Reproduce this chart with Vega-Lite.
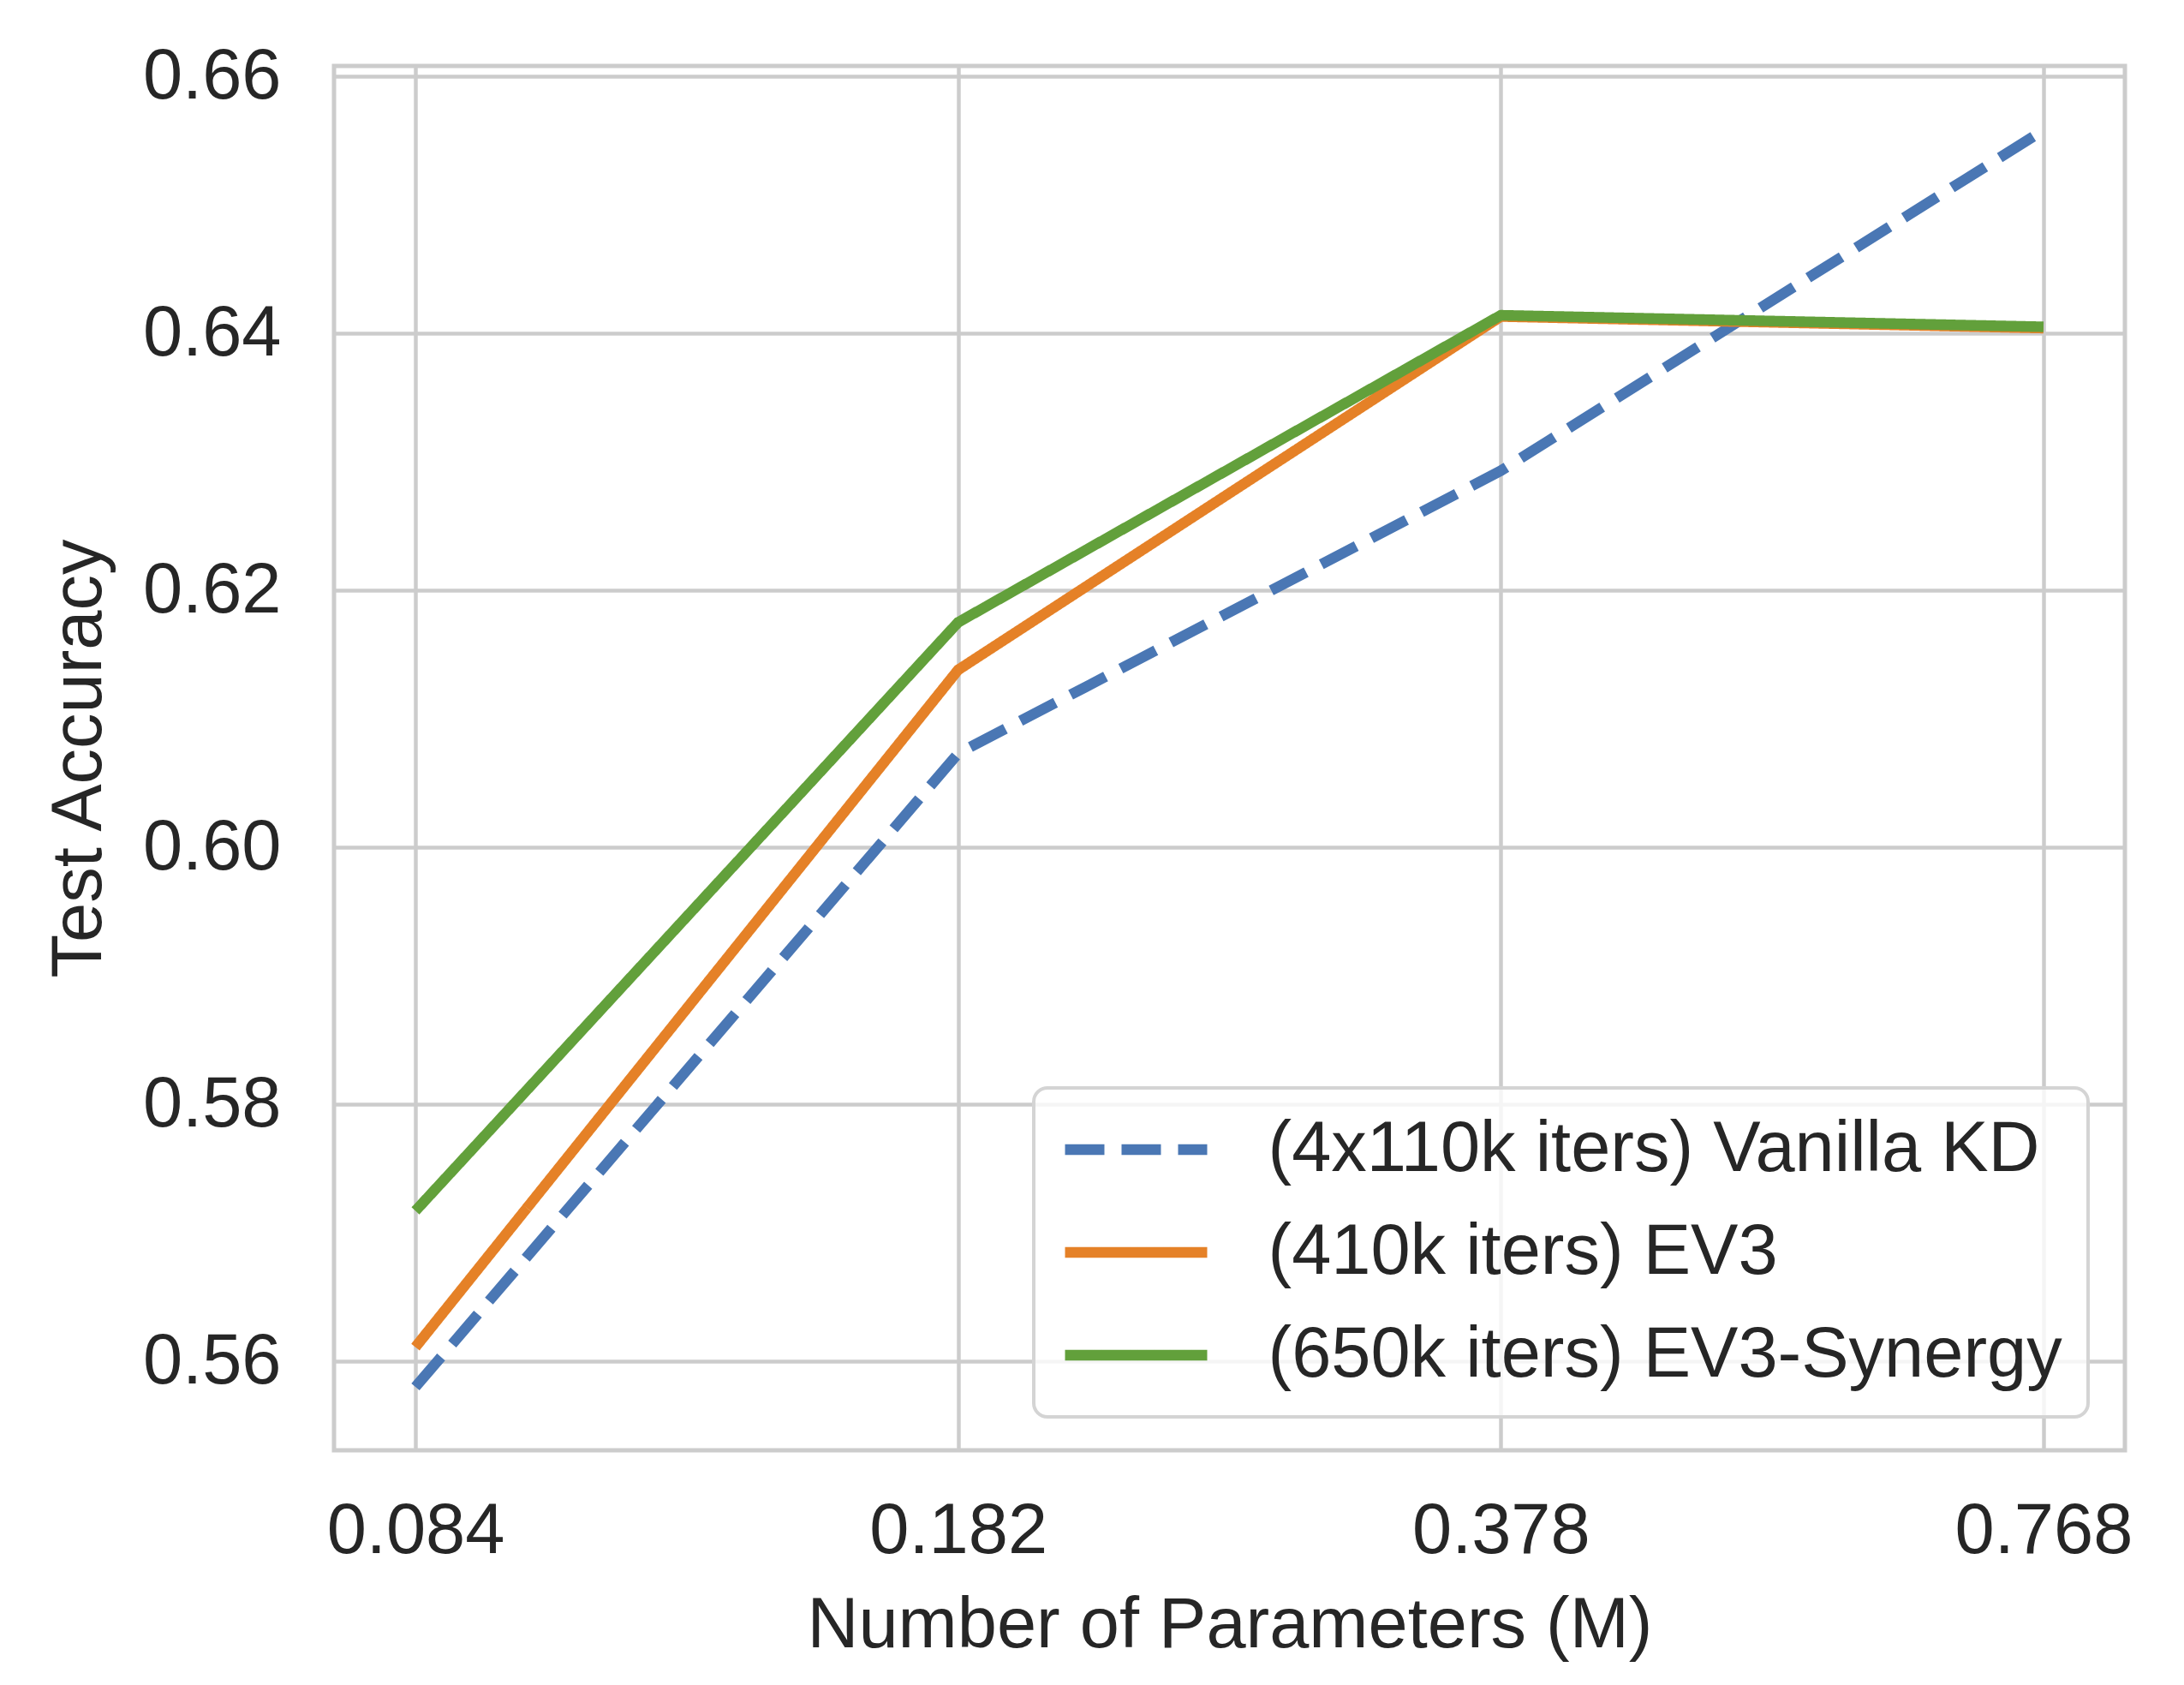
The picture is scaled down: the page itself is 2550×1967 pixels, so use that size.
{
  "$schema": "https://vega.github.io/schema/vega-lite/v6.json",
  "autosize": {"type": "none"},
  "padding": {"left": 390, "top": 77, "right": 69, "bottom": 274},
  "width": 2091,
  "height": 1616,
  "background": "white",
  "config": {
    "font": "Liberation Sans",
    "view": {"stroke": "#cccccc", "strokeWidth": 5},
    "axis": {
      "labelFont": "Liberation Sans",
      "labelFontSize": 83,
      "labelColor": "#262626",
      "labelLimit": 2000,
      "titleFont": "Liberation Sans",
      "titleFontSize": 83,
      "titleColor": "#262626",
      "titleFontWeight": "normal",
      "domain": false,
      "ticks": false,
      "tickSize": 0,
      "grid": true,
      "gridColor": "#cccccc",
      "gridWidth": 4.5
    },
    "axisX": {"labelPadding": 53, "titlePadding": 27},
    "axisY": {"labelPadding": 62, "titlePadding": 56},
    "legend": {
      "labelFont": "Liberation Sans",
      "labelFontSize": 83,
      "labelColor": "#262626",
      "labelLimit": 3000,
      "symbolType": "stroke",
      "symbolSize": 27556,
      "symbolStrokeWidth": 12.4,
      "labelOffset": 64.5,
      "padding": 30,
      "rowPadding": 36,
      "clipHeight": 84,
      "cornerRadius": 16,
      "strokeColor": "#d4d4d4",
      "strokeWidth": 4,
      "fillColor": "rgba(255,255,255,0.8)"
    }
  },
  "data": {
    "values": [
      {"method": "(4x110k iters) Vanilla KD", "params": "0.084", "acc": 0.5580},
      {"method": "(4x110k iters) Vanilla KD", "params": "0.182", "acc": 0.6073},
      {"method": "(4x110k iters) Vanilla KD", "params": "0.378", "acc": 0.6293},
      {"method": "(4x110k iters) Vanilla KD", "params": "0.768", "acc": 0.6558},
      {"method": "(410k iters) EV3", "params": "0.084", "acc": 0.5611},
      {"method": "(410k iters) EV3", "params": "0.182", "acc": 0.6138},
      {"method": "(410k iters) EV3", "params": "0.378", "acc": 0.6413},
      {"method": "(410k iters) EV3", "params": "0.768", "acc": 0.6404},
      {"method": "(650k iters) EV3-Synergy", "params": "0.084", "acc": 0.5717},
      {"method": "(650k iters) EV3-Synergy", "params": "0.182", "acc": 0.6175},
      {"method": "(650k iters) EV3-Synergy", "params": "0.378", "acc": 0.6414},
      {"method": "(650k iters) EV3-Synergy", "params": "0.768", "acc": 0.6405}
    ]
  },
  "mark": {"type": "line", "strokeWidth": 12.4, "strokeJoin": "round"},
  "encoding": {
    "x": {
      "field": "params",
      "type": "ordinal",
      "sort": ["0.084", "0.182", "0.378", "0.768"],
      "scale": {"type": "point", "padding": 0.15},
      "axis": {"title": "Number of Parameters (M)", "labelAngle": 0, "labelLimit": 2000}
    },
    "y": {
      "field": "acc",
      "type": "quantitative",
      "scale": {"domain": [0.55307, 0.6608], "nice": false, "zero": false},
      "axis": {"title": "Test Accuracy", "values": [0.56, 0.58, 0.6, 0.62, 0.64, 0.66], "format": ".2f"}
    },
    "color": {
      "field": "method",
      "type": "nominal",
      "scale": {
        "domain": ["(4x110k iters) Vanilla KD", "(410k iters) EV3", "(650k iters) EV3-Synergy"],
        "range": ["#4a77b4", "#e58127", "#62a03b"]
      },
      "legend": {"title": null, "orient": "none", "legendX": 817, "legendY": 1193}
    },
    "strokeDash": {
      "field": "method",
      "type": "nominal",
      "scale": {
        "domain": ["(4x110k iters) Vanilla KD", "(410k iters) EV3", "(650k iters) EV3-Synergy"],
        "range": [[46, 20], [1, 0], [1, 0]]
      },
      "legend": {"title": null, "orient": "none", "legendX": 817, "legendY": 1193}
    }
  }
}
